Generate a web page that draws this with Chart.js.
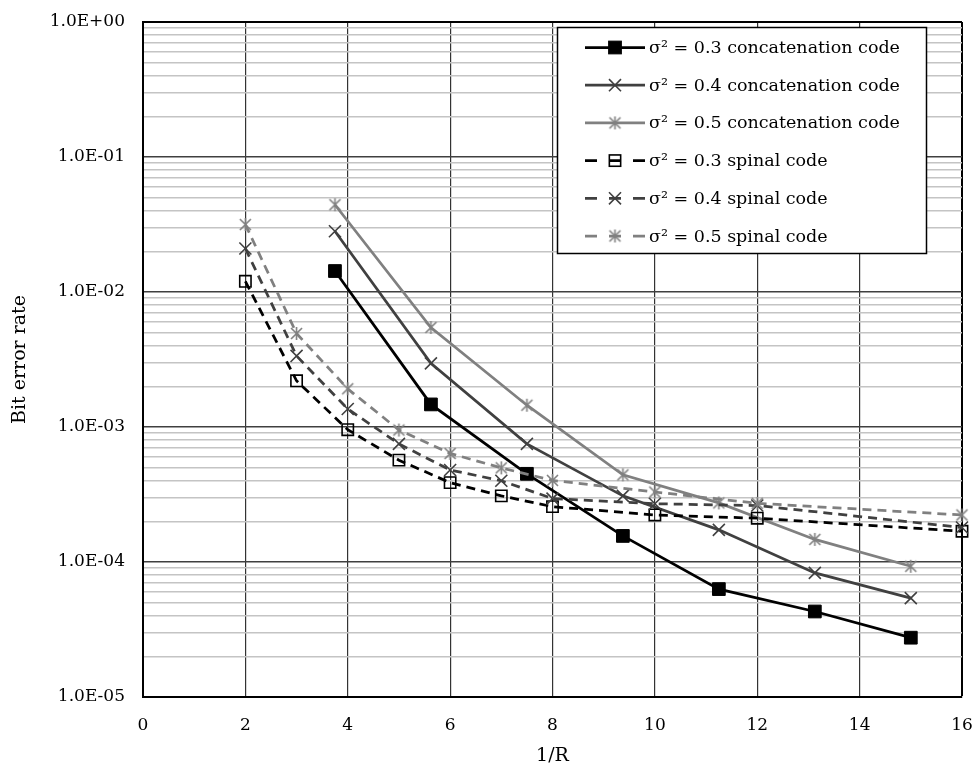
<!DOCTYPE html>
<html>
<head>
<meta charset="utf-8">
<script src="https://cdn.jsdelivr.net/npm/chart.js@4.4.1/dist/chart.umd.min.js"></script>
<style>
    html, body { margin: 0; padding: 0; background: #fff; }
    #wrap { width: 974px; height: 764px; }
</style>
</head>
<body>
<div id="wrap"><canvas id="berChart" width="974" height="764"></canvas></div>
<script>
// Valores de 1/R
const concatRates = [3.75, 5.625, 7.5, 9.375, 11.25, 13.125, 15];
const spinalRates = [2, 3, 4, 5, 6, 7, 8, 10, 12, 16];

// Bit error rate
const concat03 = [1.43e-2, 1.47e-3, 4.5e-4, 1.56e-4, 6.3e-5, 4.3e-5, 2.75e-5];
const concat04 = [2.82e-2, 2.96e-3, 7.5e-4, 3.09e-4, 1.73e-4, 8.3e-5, 5.4e-5];
const concat05 = [4.43e-2, 5.46e-3, 1.45e-3, 4.42e-4, 2.74e-4, 1.47e-4, 9.3e-5];
const spinal03 = [1.2e-2, 2.2e-3, 9.55e-4, 5.68e-4, 3.87e-4, 3.09e-4, 2.57e-4, 2.23e-4, 2.11e-4, 1.69e-4];
const spinal04 = [2.1e-2, 3.36e-3, 1.36e-3, 7.5e-4, 4.8e-4, 4.0e-4, 2.95e-4, 2.7e-4, 2.62e-4, 1.8e-4];
const spinal05 = [3.16e-2, 4.93e-3, 1.92e-3, 9.5e-4, 6.37e-4, 4.98e-4, 4.02e-4, 3.3e-4, 2.72e-4, 2.23e-4];

const seriesLabels = [
    'σ² = 0.3 concatenation code',
    'σ² = 0.4 concatenation code',
    'σ² = 0.5 concatenation code',
    'σ² = 0.3 spinal code',
    'σ² = 0.4 spinal code',
    'σ² = 0.5 spinal code'
];

// Ticks
const xTicks = [0, 2, 4, 6, 8, 10, 12, 14, 16];
const yDecades = [1e-5, 1e-4, 1e-3, 1e-2, 1e-1, 1];
const yTickLabels = ['1.0E-05', '1.0E-04', '1.0E-03', '1.0E-02', '1.0E-01', '1.0E+00'];
const yMinorSteps = [1, 2, 3, 4, 5, 6, 7, 8, 9];

const FONT = 'DejaVu Serif';
Chart.defaults.color = '#000';
Chart.defaults.font.family = FONT;

function toPoints(xs, ys) {
    return xs.map((x, i) => ({ x: x, y: ys[i] }));
}

function isDecade(v) {
    const l = Math.log10(v);
    return Math.abs(l - Math.round(l)) < 1e-9;
}

// Marcador tipo asterisco (X con barra vertical)
function makeAsterisk(color) {
    const c = document.createElement('canvas');
    c.width = 15;
    c.height = 15;
    const g = c.getContext('2d');
    g.strokeStyle = color;
    g.lineWidth = 1.6;
    const m = 7.5, r = 5.5;
    g.beginPath();
    g.moveTo(m - r, m - r); g.lineTo(m + r, m + r);
    g.moveTo(m + r, m - r); g.lineTo(m - r, m + r);
    g.moveTo(m, m - r - 1); g.lineTo(m, m + r + 1);
    g.stroke();
    return c;
}

const grayStar = makeAsterisk('#808080');

const common = {
    fill: false,
    tension: 0,
    clip: false,
    borderWidth: 2.75,
    pointHoverRadius: 9
};

const datasets = [
    Object.assign({}, common, {
        label: seriesLabels[0], data: toPoints(concatRates, concat03),
        borderColor: '#000', pointStyle: 'rect', pointRadius: 9,
        pointBackgroundColor: '#000', pointBorderColor: '#000', pointBorderWidth: 1, order: 6
    }),
    Object.assign({}, common, {
        label: seriesLabels[1], data: toPoints(concatRates, concat04),
        borderColor: '#404040', pointStyle: 'crossRot', pointRadius: 8.5,
        pointBorderColor: '#404040', pointBorderWidth: 1.6, order: 5
    }),
    Object.assign({}, common, {
        label: seriesLabels[2], data: toPoints(concatRates, concat05),
        borderColor: '#808080', pointStyle: grayStar, pointRadius: 7, order: 4
    }),
    Object.assign({}, common, {
        label: seriesLabels[3], data: toPoints(spinalRates, spinal03),
        borderColor: '#000', borderDash: [9, 6], pointStyle: 'rect', pointRadius: 8,
        pointBackgroundColor: 'rgba(0,0,0,0)', pointBorderColor: '#000', pointBorderWidth: 1.6, order: 3
    }),
    Object.assign({}, common, {
        label: seriesLabels[4], data: toPoints(spinalRates, spinal04),
        borderColor: '#404040', borderDash: [9, 6], pointStyle: 'crossRot', pointRadius: 8.5,
        pointBorderColor: '#404040', pointBorderWidth: 1.6, order: 2
    }),
    Object.assign({}, common, {
        label: seriesLabels[5], data: toPoints(spinalRates, spinal05),
        borderColor: '#808080', borderDash: [9, 6], pointStyle: grayStar, pointRadius: 7, order: 1
    })
];

function drawLegendMarker(ctx, ds, x, y) {
    const style = ds.pointStyle;
    if (style instanceof HTMLCanvasElement) {
        ctx.drawImage(style, x - style.width / 2, y - style.height / 2);
        return;
    }
    ctx.lineWidth = ds.pointBorderWidth;
    ctx.strokeStyle = ds.pointBorderColor;
    if (style === 'rect') {
        const s = Math.SQRT1_2 * ds.pointRadius;
        if (ds.pointBackgroundColor && ds.pointBackgroundColor !== 'rgba(0,0,0,0)') {
            ctx.fillStyle = ds.pointBackgroundColor;
            ctx.fillRect(x - s, y - s, 2 * s, 2 * s);
        }
        ctx.strokeRect(x - s, y - s, 2 * s, 2 * s);
    } else if (style === 'crossRot') {
        const o = Math.SQRT1_2 * ds.pointRadius;
        ctx.beginPath();
        ctx.moveTo(x - o, y - o); ctx.lineTo(x + o, y + o);
        ctx.moveTo(x + o, y - o); ctx.lineTo(x - o, y + o);
        ctx.stroke();
    }
}

// Leyenda en recuadro dentro del area del grafico
const boxLegend = {
    id: 'boxLegend',
    afterDatasetsDraw(chart) {
        const ctx = chart.ctx;
        const bx = 557, by = 27, bw = 370, bh = 227;
        ctx.save();
        ctx.fillStyle = '#fff';
        ctx.fillRect(bx, by, bw, bh);
        ctx.strokeStyle = '#000';
        ctx.lineWidth = 1.5;
        ctx.strokeRect(bx + 0.5, by + 0.5, bw - 1, bh - 1);

        chart.data.datasets.forEach((ds, i) => {
            const y = 47.5 + i * 37.7;
            ctx.strokeStyle = ds.borderColor;
            ctx.lineWidth = ds.borderWidth;
            ctx.setLineDash([]);
            ctx.beginPath();
            if (ds.borderDash) {
                ctx.moveTo(585, y); ctx.lineTo(597, y);
                ctx.moveTo(609, y); ctx.lineTo(621, y);
                ctx.moveTo(633, y); ctx.lineTo(645, y);
            } else {
                ctx.moveTo(585, y); ctx.lineTo(645, y);
            }
            ctx.stroke();
            drawLegendMarker(ctx, ds, 615, y);

            ctx.fillStyle = '#000';
            ctx.font = '17.5px "' + FONT + '"';
            ctx.textAlign = 'left';
            ctx.textBaseline = 'middle';
            ctx.fillText(ds.label, 649, y + 1);
        });
        ctx.restore();
    }
};

new Chart(document.getElementById('berChart').getContext('2d'), {
    type: 'line',
    data: { datasets: datasets },
    plugins: [boxLegend],
    options: {
        responsive: false,
        devicePixelRatio: 1,
        animation: false,
        layout: {
            padding: { top: 22, right: 12, left: 0, bottom: 0 }
        },
        plugins: {
            legend: { display: false },
            tooltip: { enabled: false }
        },
        scales: {
            x: {
                type: 'linear',
                min: 0,
                max: 16,
                afterBuildTicks: function(scale) {
                    scale.ticks = xTicks.map(v => ({ value: v }));
                },
                afterFit: function(scale) {
                    scale.height = 67;
                    scale.paddingLeft = 0;
                    scale.paddingRight = 0;
                },
                ticks: {
                    padding: 18,
                    autoSkip: false,
                    maxRotation: 0,
                    font: { size: 17 },
                    callback: function(value) {
                        return String(value);
                    }
                },
                grid: {
                    drawTicks: false,
                    color: function(ctx) {
                        return ctx.tick && ctx.tick.value === 16 ? '#000' : '#333';
                    },
                    lineWidth: function(ctx) {
                        return ctx.tick && ctx.tick.value === 16 ? 2 : 1.2;
                    }
                },
                border: { color: '#000', width: 2 },
                title: {
                    display: true,
                    text: '1/R',
                    font: { size: 19 },
                    padding: { top: 0, bottom: -3 }
                }
            },
            y: {
                type: 'logarithmic',
                min: 1e-5,
                max: 1,
                afterBuildTicks: function(scale) {
                    const ticks = [];
                    yDecades.forEach((d, i) => {
                        if (i === yDecades.length - 1) {
                            ticks.push({ value: d });
                            return;
                        }
                        yMinorSteps.forEach(s => ticks.push({ value: d * s }));
                    });
                    scale.ticks = ticks;
                },
                afterFit: function(scale) {
                    scale.width = 143;
                    scale.paddingTop = 0;
                    scale.paddingBottom = 0;
                },
                ticks: {
                    padding: 18,
                    autoSkip: false,
                    font: { size: 17 },
                    callback: function(value) {
                        const i = yDecades.findIndex(d => Math.abs(d - value) / d < 1e-6);
                        return i >= 0 ? yTickLabels[i] : '';
                    }
                },
                grid: {
                    drawTicks: false,
                    color: function(ctx) {
                        if (!ctx.tick) return '#c0c0c0';
                        if (ctx.tick.value === 1) return '#000';
                        return isDecade(ctx.tick.value) ? '#404040' : '#c4c4c4';
                    },
                    lineWidth: function(ctx) {
                        if (ctx.tick && ctx.tick.value === 1) return 2;
                        return 1.5;
                    }
                },
                border: { color: '#000', width: 2 },
                title: {
                    display: true,
                    text: 'Bit error rate',
                    font: { size: 19 },
                    padding: { top: 9, bottom: 0 }
                }
            }
        }
    }
});
</script>
</body>
</html>
